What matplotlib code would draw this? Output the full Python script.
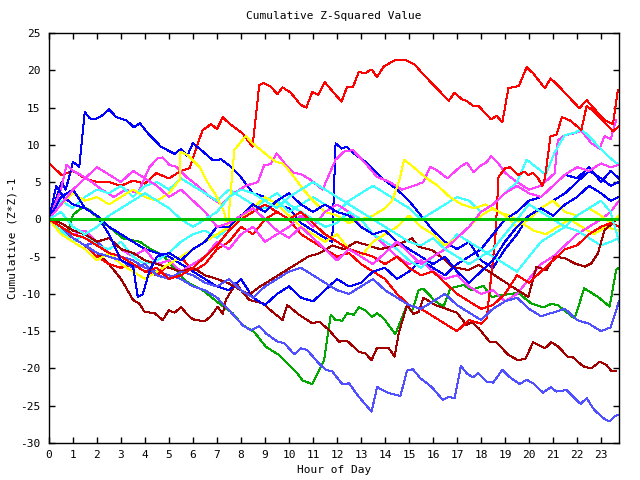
import matplotlib
matplotlib.use("Agg")
import matplotlib.pyplot as plt

# ---------------- data ----------------
zero_x = [0, 23.75]
zero_y = [0, 0]

r1_x = [0, 0.53, 1.0, 1.5, 2.0, 2.5, 3.0, 3.5, 4.0, 4.47, 5.0, 5.5, 5.85, 6.4, 6.6, 6.75, 7.0, 7.24, 7.5,
        8.07, 8.48, 8.76, 8.95, 9.24, 9.52, 9.73, 10.07, 10.49, 10.72, 10.97, 11.22, 11.49, 11.94, 12.19,
        12.42, 12.66, 12.91, 13.16, 13.44, 13.67, 13.95, 14.43, 14.85, 15.26, 15.5, 15.95, 16.23, 16.65,
        16.9, 17.2, 17.4, 17.68, 17.9, 18.42, 18.65, 18.89, 19.14, 19.58, 19.9, 20.17, 20.66, 20.9, 21.2,
        22.1, 22.4, 22.7, 23.15, 23.5, 23.7]
r1_y = [7.5, 5.95, 6.5, 5.5, 5.0, 5.0, 4.5, 5.2, 4.8, 6.2, 5.5, 6.5, 6.85, 12.0, 12.4, 12.8, 12.1, 13.7, 12.9,
        11.5, 9.75, 18.0, 18.3, 17.8, 16.8, 17.7, 17.0, 15.35, 15.0, 17.1, 16.7, 18.4, 16.7, 15.8,
        17.8, 17.7, 19.8, 19.6, 20.1, 19.1, 20.5, 21.4, 21.4, 20.7, 19.8, 18.25, 17.35, 15.9,
        17.0, 16.1, 15.9, 15.2, 15.2, 13.4, 13.9, 13.0, 17.6, 17.9, 20.4, 19.6, 17.6, 18.9, 18.0,
        14.9, 16.0, 14.9, 13.3, 12.8, 17.35]

g1_x = [0, 0.5, 0.8, 1.0, 1.42, 1.7, 2.05, 2.5, 3.08, 3.78, 4.19, 4.74, 5.3, 5.72, 6.4, 7.1, 7.65, 8.07,
        8.55, 9.04, 9.59, 10.28, 10.56, 10.97, 11.46, 11.74, 11.94, 12.22, 12.42, 12.7, 12.91, 13.19, 13.46,
        13.67, 13.95, 14.43, 14.92, 15.12, 15.4, 15.6, 16.1, 16.44, 16.72, 17.27, 17.6, 18.1, 18.45, 19.0,
        19.55, 20.1, 20.6, 20.93, 21.2, 21.9, 22.3, 22.87, 23.36, 23.63, 23.75]
g1_y = [0, -1.0, -1.9, 0.6, 1.7, 1.2, 0.15, -1.0, -2.55, -3.0, -3.9, -4.8, -6.8, -8.35, -9.5, -11.3, -12.6,
        -14.2, -15.1, -17.1, -18.2, -20.4, -21.6, -22.1, -18.9, -12.8, -13.5, -13.6, -12.6, -12.8, -11.8,
        -12.2, -13.1, -12.6, -13.3, -15.4, -11.5, -12.4, -9.5, -9.3, -11.0, -11.7, -9.25, -8.8, -9.5, -8.9,
        -10.4, -10.1, -9.85, -11.3, -11.8, -11.35, -11.5, -13.3, -9.25, -10.4, -11.7, -6.8, -6.5]

b1_x = [0, 0.53, 0.7, 1.0, 1.26, 1.49, 1.7, 1.91, 2.25, 2.5, 2.81, 3.22, 3.54, 3.78, 4.19, 4.68, 5.23, 5.51,
        5.76, 5.99, 6.34, 6.82, 7.17, 7.58, 7.93, 8.5, 9.0, 9.5, 10.0, 10.5, 11.0, 11.5, 11.8, 11.94, 12.2,
        12.4, 12.7, 13.2, 13.88, 14.5, 15.0, 15.5, 16.0, 16.5, 17.0, 17.5, 18.0, 18.5, 19.0, 19.5, 20.0,
        20.5, 21.0, 21.5, 22.0, 22.5, 23.0, 23.4, 23.75]
b1_y = [0, 5.05, 4.0, 7.7, 7.05, 14.4, 13.55, 13.4, 14.0, 14.75, 13.7, 13.3, 12.35, 12.9, 11.3, 9.7, 8.8,
        9.45, 8.5, 10.2, 9.3, 7.95, 8.05, 7.05, 5.95, 3.5, 3.0, 2.0, 1.5, -0.5, -1.5, -2.5, -3.0, 10.2, 9.5,
        9.75, 8.85, 7.7, 5.5, 4.0, 2.5, 0.5, -1.5, -3.0, -4.0, -3.0, -5.5, -6.5, -4.0, -2.0, 0.5,
        1.5, 2.5, 3.5, 5.0, 6.5, 5.5, 4.5, 5.0]

m1_x = [0, 0.5, 0.73, 1.0, 1.3, 1.7, 2.2, 2.7, 3.2, 3.7, 4.19, 4.54, 4.74, 5.02, 5.3, 5.72, 6.2, 6.7,
        7.2, 7.7, 8.2, 8.7, 8.97, 9.24, 9.49, 9.93, 10.2, 10.49, 10.9, 11.4, 11.94, 12.29, 12.66, 13.19,
        13.67, 14.2, 14.7, 15.2, 15.6, 15.88, 16.2, 16.6, 17.13, 17.41, 17.7, 17.96, 18.24, 18.42, 18.73,
        19.0, 19.5, 20.0, 20.5, 21.07, 21.2, 21.49, 21.9, 22.18, 22.6, 22.94, 23.15, 23.4, 23.63]
m1_y = [0, 4.0, 7.3, 6.5, 6.0, 5.2, 4.0, 3.0, 4.0, 3.5, 7.05, 8.2, 8.3, 7.3, 7.05, 5.7, 4.5, 3.0,
        2.0, 3.5, 4.5, 5.0, 7.3, 7.4, 8.85, 7.05, 6.2, 6.1, 5.3, 4.0, 8.0, 9.1, 9.3, 7.5,
        5.7, 5.0, 4.0, 4.5, 5.0, 7.05, 6.5, 5.5, 7.05, 7.6, 6.3, 7.15, 7.7, 8.5, 7.5,
        6.25, 5.0, 4.0, 4.5, 6.2, 10.6, 11.3, 11.55, 11.9, 10.2, 9.5, 11.2, 10.75, 13.3]

c1_x = [0, 0.5, 1.0, 1.5, 2.0, 2.5, 3.0, 3.5, 4.0, 4.5, 5.0, 5.5, 6.0, 6.5, 7.0, 7.5, 8.0, 8.5, 9.0,
        9.5, 10.0, 10.5, 11.0, 11.5, 12.0, 12.5, 13.0, 13.5, 14.0, 14.5, 15.0, 15.5, 16.0, 16.5, 17.0,
        17.5, 18.0, 18.5, 19.0, 19.5, 19.9, 20.3, 20.7, 21.07, 21.49, 21.9, 22.18, 22.6, 23.01, 23.43, 23.7]
c1_y = [0, 2.5, 1.5, 3.0, 4.0, 3.5, 4.5, 3.0, 4.5, 5.0, 4.0, 5.5, 4.5, 3.5, 2.5, 4.0, 3.0, 2.0, 1.5,
        2.5, 1.0, 2.0, 3.0, 2.0, 1.0, 2.5, 3.5, 4.5, 3.5, 2.5, 1.5, 0.0, 1.0, 2.0, 3.0,
        2.5, 1.0, 2.0, 3.5, 5.0, 8.0, 7.0, 6.0, 9.0, 11.3, 11.6, 12.1, 10.8, 9.4, 8.1, 7.4]

dr1_x = [0, 0.5, 1.0, 1.5, 2.0, 2.5, 3.0, 3.5, 3.78, 3.98, 4.4, 4.74, 4.99, 5.23, 5.51, 5.78, 5.99, 6.47,
         6.75, 7.03, 7.24, 7.37, 7.8, 8.0, 8.34, 8.9, 9.31, 9.73, 9.93, 10.42, 10.97, 11.25, 11.67, 12.08,
         12.42, 12.91, 13.19, 13.44, 13.67, 14.16, 14.4, 14.57, 14.92, 15.19, 15.4, 15.6, 16.1, 16.72,
         17.0, 17.4, 17.6, 17.9, 18.38, 18.65, 19.14, 19.55, 19.86, 20.17, 20.66, 20.93, 21.2, 21.63,
         21.83, 22.25, 22.6, 22.94, 23.22, 23.42, 23.63]
dr1_y = [0, -1.5, -2.5, -3.5, -4.5, -6.0, -8.0, -10.8, -11.35, -12.4, -12.6, -13.5, -12.2, -12.5, -11.8,
         -12.8, -13.4, -13.7, -13.0, -11.7, -12.7, -10.8, -8.5, -9.5, -10.8, -11.25, -12.4, -13.5, -11.5,
         -12.8, -13.95, -13.7, -14.85, -16.4, -16.3, -17.75, -18.0, -18.9, -17.2, -17.3, -18.4, -15.3,
         -11.5, -12.7, -12.4, -10.5, -11.5, -12.2, -12.5, -14.2, -13.75, -14.6, -16.5, -16.5, -18.2,
         -18.9, -18.65, -16.5, -17.3, -16.5, -17.0, -18.5, -18.5, -19.7, -20.0, -19.1, -19.5, -20.3, -20.3]

y1_x = [0, 0.5, 1.0, 1.5, 2.0, 2.5, 3.0, 3.5, 4.0, 4.5, 5.0, 5.44, 5.46, 5.78, 6.27, 6.6, 7.0, 7.3, 7.45,
        7.72, 8.2, 8.48, 8.83, 9.17, 9.45, 9.73, 9.93, 10.2, 10.6, 11.0, 11.5, 12.0, 12.5, 13.0, 13.5,
        14.0, 14.3, 14.6, 14.8, 15.15, 15.7, 16.2, 16.7, 17.2, 17.7, 18.2, 18.7, 19.2, 19.7, 20.2, 20.7,
        21.2, 21.7, 22.2, 22.7, 23.2, 23.75]
y1_y = [0, 2.0, 3.5, 2.5, 3.0, 2.0, 3.0, 4.0, 3.0, 2.5, 3.5, 5.3, 9.1, 8.6, 7.05, 5.0, 3.0, 1.0, -1.0,
        9.3, 11.2, 10.2, 9.3, 8.4, 7.7, 7.5, 6.85, 5.7, 4.0, 2.5, 1.0, 0.5, -0.5, 0.0, 0.5,
        1.5, 2.5, 5.3, 8.0, 7.1, 5.6, 4.5, 3.0, 2.0, 1.5, 2.0, 1.0, 0.5, -0.5, -1.5, -2.0,
        -1.0, 0.0, -1.0, -2.0, -1.0, -1.5]

sb1_x = [0, 0.5, 1.0, 1.5, 2.0, 2.5, 3.0, 3.5, 4.0, 4.5, 5.0, 5.5, 6.0, 6.5, 7.0, 7.51, 8.07, 8.41, 8.76,
         9.04, 9.52, 9.8, 10.22, 10.49, 10.75, 11.18, 11.53, 11.8, 12.22, 12.5, 12.91, 13.44, 13.67, 14.16,
         14.64, 14.92, 15.16, 15.47, 15.95, 16.4, 16.65, 16.9, 17.16, 17.41, 17.65, 17.89, 18.24, 18.5,
         18.89, 19.21, 19.62, 19.9, 20.17, 20.59, 20.91, 21.14, 21.56, 21.9, 22.15, 22.4, 22.73, 23.15,
         23.36, 23.59, 23.75]
sb1_y = [0, -1.5, -2.5, -3.5, -3.0, -4.5, -5.0, -5.5, -6.5, -7.0, -7.5, -8.0, -9.0, -9.5, -10.5, -12.2,
         -14.2, -14.9, -14.3, -15.3, -16.4, -16.6, -18.1, -17.3, -17.5, -19.1, -20.2, -20.4, -22.1, -22.0,
         -23.8, -25.8, -22.5, -23.3, -23.7, -20.3, -20.1, -21.3, -22.5, -24.2, -23.8, -24.0, -19.7,
         -20.65, -21.2, -20.65, -21.8, -21.9, -20.2, -21.2, -22.1, -21.5, -22.0, -23.25, -22.5, -23.1,
         -22.9, -24.0, -24.75, -24.0, -25.6, -26.8, -27.1, -26.4, -26.2]

r2_x = [0, 0.5, 1.0, 1.5, 2.0, 2.5, 3.0, 3.5, 4.0, 4.5, 5.0, 5.5, 6.0, 6.5, 7.0, 7.5, 8.0, 8.5, 9.0,
        9.5, 10.0, 10.5, 11.0, 11.5, 12.0, 12.5, 13.0, 13.5, 14.0, 14.5, 15.0, 15.5, 16.0, 16.5, 17.0,
        17.5, 18.0, 18.24, 18.6, 18.73, 19.0, 19.2, 19.55, 19.8, 19.97, 20.17, 20.38, 20.55, 20.66, 20.9,
        21.14, 21.37, 21.7, 22.18, 22.4, 22.7, 23.0, 23.3, 23.5, 23.75]
r2_y = [0, -1.5, -2.5, -3.5, -5.0, -6.0, -6.5, -6.0, -7.0, -7.5, -6.0, -5.0, -7.0, -6.0, -4.0, -3.0,
        -1.0, -2.0, 0.0, 1.0, 0.0, -2.0, -3.0, -4.0, -5.0, -4.5, -6.0, -7.0, -8.0, -10.0, -11.5, -12.0,
        -13.0, -14.0, -15.0, -13.5, -14.0, -13.3, -2.3, 5.7, 6.85, 7.0, 5.95, 6.4, 5.95, 6.25, 5.5, 4.5,
        5.5, 11.2, 11.3, 13.7, 13.3, 12.0, 15.2, 14.5, 13.5, 12.5, 11.8, 12.5]

b2_x = [0, 0.3, 0.6, 1.0, 1.5, 2.0, 2.5, 3.0, 3.5, 4.0, 4.5, 5.0, 5.5, 6.0, 6.5, 7.0, 7.5, 8.0, 8.5,
        9.0, 9.5, 10.0, 10.5, 11.0, 11.5, 12.0, 12.5, 13.0, 13.5, 14.0, 14.5, 15.0, 15.5, 16.0, 16.5,
        17.0, 17.5, 18.0, 18.5, 19.0, 19.5, 20.0, 20.5, 21.0, 21.5, 22.0, 22.5, 23.0, 23.4, 23.75]
b2_y = [0, 4.5, 3.0, 2.0, 1.5, 0.5, -1.0, -2.0, -3.0, -4.0, -4.5, -5.0, -6.0, -7.0, -8.0, -9.0, -9.5,
        -8.0, -10.5, -11.5, -10.0, -9.0, -10.5, -11.0, -9.5, -8.0, -9.0, -8.5, -7.0, -6.5, -8.0, -7.0,
        -5.5, -6.5, -7.5, -6.0, -5.0, -4.0, -2.0, 0.0, 1.0, 2.5, 3.0, 4.5, 6.0, 5.5, 7.0, 5.0, 6.5, 5.5]

m2_x = [0, 0.5, 1.0, 1.5, 2.0, 2.5, 3.0, 3.5, 4.0, 4.5, 5.0, 5.5, 6.0, 6.5, 7.0, 7.5, 8.0, 8.5, 9.0,
        9.5, 10.0, 10.5, 11.0, 11.5, 12.0, 12.5, 13.0, 13.5, 14.0, 14.5, 15.0, 15.5, 16.0, 16.5, 17.0,
        17.5, 18.0, 18.5, 19.0, 19.5, 20.0, 20.5, 21.0, 21.5, 22.0, 22.5, 23.0, 23.4, 23.75]
m2_y = [0, -1.0, -2.0, -1.5, -3.0, -2.5, -4.0, -5.0, -4.0, -6.0, -5.5, -7.0, -6.0, -5.0, -3.0, -4.0,
        -2.0, -1.0, -3.0, -2.0, -1.0, 0.5, -1.0, 1.0, 2.0, 1.0, -1.0, -2.0, -3.5, -5.0, -6.0, -5.5, -7.0,
        -8.0, -7.5, -9.0, -10.0, -9.5, -11.0, -10.0, -8.0, -6.0, -5.0, -3.5, -2.0, -1.0, 0.0, 1.0, 2.5]

c2_x = [0, 0.5, 1.0, 1.5, 2.0, 2.5, 3.0, 3.5, 4.0, 4.5, 5.0, 5.5, 6.0, 6.5, 7.0, 7.5, 8.0, 8.5, 9.0,
        9.5, 10.0, 10.5, 11.0, 11.5, 12.0, 12.5, 13.0, 13.5, 14.0, 14.5, 15.0, 15.5, 16.0, 16.5, 17.0,
        17.5, 18.0, 18.5, 19.0, 19.5, 20.0, 20.5, 21.0, 21.5, 22.0, 22.5, 23.0, 23.4, 23.75]
c2_y = [0, -1.5, -3.0, -2.0, -3.5, -4.0, -3.0, -5.0, -6.0, -5.5, -4.5, -3.0, -2.0, -1.5, -2.5, -1.0,
        0.5, 1.5, 2.5, 3.5, 2.0, 1.0, 0.0, -1.0, -0.5, 1.0, 0.0, -2.0, -3.0, -4.0, -5.5, -6.5, -5.0,
        -4.0, -2.0, -3.0, -4.0, -5.0, -6.0, -7.0, -5.0, -3.0, -2.0, -1.0, -1.5, -2.5, -3.5, -3.0, -2.5]

dr2_x = [0, 0.5, 1.0, 1.5, 2.0, 2.5, 3.0, 3.5, 4.0, 4.5, 5.0, 5.5, 6.0, 6.5, 7.0, 7.5, 8.0, 8.34, 8.8,
         9.3, 9.8, 10.3, 10.8, 11.3, 11.8, 12.3, 12.8, 13.3, 13.8, 14.5, 15.12, 15.4, 15.95, 16.5, 16.78,
         17.48, 17.9, 18.45, 19.28, 19.97, 20.31, 20.73, 21.07, 21.49, 21.9, 22.32, 22.6, 22.87, 23.15,
         23.5, 23.75]
dr2_y = [0, -0.5, -1.5, -2.0, -3.0, -2.5, -4.0, -4.5, -5.5, -6.0, -6.5, -7.0, -6.5, -7.5, -8.0, -8.6,
         -9.5, -10.1, -9.0, -8.0, -7.0, -6.0, -5.0, -4.5, -3.5, -4.0, -3.0, -3.5, -4.0, -3.45, -2.55,
         -3.7, -4.1, -5.45, -6.35, -6.8, -6.1, -7.25, -9.0, -10.4, -6.35, -6.8, -5.0, -5.2, -5.9, -6.35,
         -5.9, -4.55, -1.4, -0.5, 0.5]

y2_x = [0, 0.5, 1.0, 1.5, 2.0, 2.5, 3.0, 3.5, 4.0, 4.5, 5.0, 5.5, 6.0, 6.5, 7.0, 7.5, 8.0, 8.5, 9.0,
        9.5, 10.0, 10.5, 11.0, 11.5, 12.0, 12.5, 13.0, 13.5, 14.0, 14.5, 15.0, 15.5, 16.0, 16.5, 17.0,
        17.5, 18.0, 18.5, 19.0, 19.5, 20.0, 20.5, 21.0, 21.5, 22.0, 22.5, 23.0, 23.4, 23.75]
y2_y = [0, -2.0, -3.0, -4.0, -5.5, -4.5, -6.0, -7.0, -8.0, -7.0, -6.0, -5.0, -4.0, -3.0, -2.0, -1.0,
        0.0, 1.5, 3.0, 2.0, 0.5, -1.0, -2.0, -3.0, -2.0, -4.0, -5.0, -3.0, -2.0, -1.0, 0.5, -1.0, -2.0,
        -3.5, -2.5, -1.0, 0.5, 1.5, 0.5, -1.0, 0.0, 1.5, 2.5, 1.0, 0.5, 1.5, 0.5, -0.5, 0.5]

sb2_x = [0, 0.5, 1.0, 1.5, 2.0, 2.5, 3.0, 3.5, 4.0, 4.5, 5.0, 5.5, 6.0, 6.5, 7.0, 7.5, 8.0, 8.5, 9.0,
         9.5, 10.0, 10.5, 11.0, 11.5, 12.0, 12.5, 13.0, 13.5, 14.0, 14.5, 15.0, 15.5, 16.0, 16.5, 17.0,
         17.5, 18.0, 18.5, 19.0, 19.5, 20.0, 20.5, 21.0, 21.5, 22.0, 22.5, 23.0, 23.4, 23.75]
sb2_y = [0, -1.0, -2.5, -3.5, -4.5, -5.0, -5.5, -6.5, -6.0, -7.5, -8.0, -7.0, -7.5, -8.5, -9.0, -8.0,
         -9.5, -10.5, -9.0, -8.0, -7.0, -6.5, -7.5, -8.5, -9.5, -10.0, -9.0, -8.0, -9.5, -10.5, -11.5,
         -12.0, -11.0, -10.0, -11.5, -12.5, -13.5, -12.0, -11.0, -10.5, -12.0, -13.0, -12.5, -12.0, -13.5,
         -14.0, -15.0, -14.5, -11.0]

r3_x = [0, 0.5, 1.0, 1.5, 2.0, 2.5, 3.0, 3.5, 4.0, 4.5, 5.0, 5.5, 6.0, 6.5, 7.0, 7.5, 8.0, 8.5, 9.0,
        9.5, 10.0, 10.5, 11.0, 11.5, 12.0, 12.5, 13.0, 13.5, 14.0, 14.5, 15.0, 15.5, 16.0, 16.5, 17.0,
        17.5, 18.0, 18.5, 19.0, 19.5, 20.0, 20.5, 21.0, 21.5, 22.0, 22.5, 23.0, 23.4, 23.75]
r3_y = [0, -1.0, -2.0, -2.5, -3.5, -4.5, -5.0, -6.0, -7.0, -6.5, -8.0, -7.5, -6.5, -5.0, -3.5, -1.5,
        0.0, 1.0, 2.0, 1.0, 0.0, 1.0, -0.5, -2.0, -3.0, -4.0, -4.5, -5.0, -6.0, -5.0, -6.5, -7.5, -7.0,
        -8.5, -10.0, -11.0, -12.0, -11.5, -10.0, -7.5, -8.5, -7.0, -5.5, -4.0, -3.5, -2.0, -1.0, -0.5, -1.0]

b3_x = [0, 0.5, 1.0, 1.5, 2.0, 2.5, 3.0, 3.5, 3.7, 3.9, 4.2, 4.5, 5.0, 5.5, 6.0, 6.5, 7.0, 7.5, 8.0,
        8.5, 9.0, 9.5, 10.0, 10.5, 11.0, 11.5, 12.0, 12.5, 13.0, 13.5, 14.0, 14.5, 15.0, 15.5, 16.0,
        16.5, 17.0, 17.5, 18.0, 18.5, 19.0, 19.5, 20.0, 20.5, 21.0, 21.5, 22.0, 22.5, 23.0, 23.4, 23.75]
b3_y = [0, 3.0, 4.0, 1.5, 0.5, -2.0, -5.5, -6.3, -10.4, -10.1, -6.8, -5.0, -4.5, -5.5, -4.0, -3.0,
        -1.0, -1.0, 0.5, 2.0, 1.0, 2.5, 3.5, 2.0, 1.0, 2.0, 1.0, 0.5, -1.0, -2.0, -1.5, -3.0, -4.0,
        -5.0, -6.0, -5.0, -7.0, -8.5, -7.0, -5.5, -3.0, -1.0, 0.5, 1.5, 0.5, 2.0, 3.0, 4.5, 3.5, 2.5, 3.0]

m3_x = [0, 0.5, 1.0, 1.5, 2.0, 2.5, 3.0, 3.5, 4.0, 4.5, 5.0, 5.5, 6.0, 6.5, 7.0, 7.5, 8.0, 8.5, 9.0,
        9.5, 10.0, 10.5, 11.0, 11.5, 12.0, 12.5, 13.0, 13.5, 14.0, 14.5, 15.0, 15.5, 16.0, 16.5, 17.0,
        17.5, 18.0, 18.5, 19.0, 19.5, 20.0, 20.5, 21.0, 21.5, 22.0, 22.5, 23.0, 23.4, 23.75]
m3_y = [0, 2.0, 4.0, 5.5, 7.0, 6.0, 5.0, 6.5, 5.5, 4.5, 3.0, 4.0, 2.5, 1.0, -1.0, -0.5, 0.5, 1.5, 0.0,
        -1.5, -2.5, -1.0, -2.5, -4.0, -5.5, -4.0, -5.0, -6.0, -4.5, -3.0, -4.5, -6.0, -5.0, -4.0, -2.5,
        -1.0, 1.0, 2.0, 3.5, 4.5, 3.5, 3.0, 4.5, 6.0, 7.0, 6.5, 7.5, 7.0, 7.3]

c3_x = [0, 0.5, 1.0, 1.5, 2.0, 2.5, 3.0, 3.5, 4.0, 4.5, 5.0, 5.5, 6.0, 6.5, 7.0, 7.5, 8.0, 8.5, 9.0,
        9.5, 10.0, 10.5, 11.0, 11.5, 12.0, 12.5, 13.0, 13.5, 14.0, 14.5, 15.0, 15.5, 16.0, 16.5, 17.0,
        17.5, 18.0, 18.5, 19.0, 19.5, 20.0, 20.5, 21.0, 21.5, 22.0, 22.5, 23.0, 23.4, 23.75]
c3_y = [0, 1.0, -1.0, -2.0, -1.0, 0.5, 1.5, 2.5, 3.5, 2.5, 1.5, 0.0, -1.0, 0.0, 1.0, 3.0, 4.0, 3.5,
        2.5, 1.5, 3.0, 4.0, 5.0, 4.0, 3.0, 2.0, 1.0, 0.0, -1.0, -2.0, -3.0, -3.5, -2.5, -4.0, -5.0, -6.0,
        -5.0, -4.0, -2.0, 0.0, 2.0, 1.0, 0.0, -1.0, 0.5, 1.5, 2.5, 1.0, -3.0]

series = [
    (r1_x, r1_y, "#ff0000"),
    (g1_x, g1_y, "#00a800"),
    (b1_x, b1_y, "#0000ff"),
    (m1_x, m1_y, "#ff40ff"),
    (c1_x, c1_y, "#40ffff"),
    (dr1_x, dr1_y, "#a00000"),
    (y1_x, y1_y, "#ffff00"),
    (sb1_x, sb1_y, "#5050ff"),
    (r2_x, r2_y, "#ff0000"),
    (b2_x, b2_y, "#0000ff"),
    (m2_x, m2_y, "#ff40ff"),
    (c2_x, c2_y, "#40ffff"),
    (dr2_x, dr2_y, "#a00000"),
    (y2_x, y2_y, "#ffff00"),
    (sb2_x, sb2_y, "#5050ff"),
    (r3_x, r3_y, "#ff0000"),
    (b3_x, b3_y, "#0000ff"),
    (m3_x, m3_y, "#ff40ff"),
    (c3_x, c3_y, "#40ffff"),
]

x_ticks = list(range(0, 24))
y_ticks = list(range(-30, 26, 5))

# ---------------- drawing ----------------
mono = ["DejaVu Sans Mono"]
fs = 8.0
fig = plt.figure(figsize=(6.4, 4.8), dpi=100)
ax = fig.add_axes([49 / 640, 1 - 443 / 480, (619 - 49) / 640, (443 - 33) / 480])

for xs, ys, col in series:
    ax.plot(xs, ys, color=col, lw=0.72, antialiased=False)
ax.plot(zero_x, zero_y, color="#00c000", lw=0.8, antialiased=False)

ax.set_xlim(0, 23.75)
ax.set_ylim(-30, 25)
ax.set_xticks(x_ticks)
ax.set_yticks(y_ticks)
ax.set_xticklabels([str(v) for v in x_ticks], family=mono, fontsize=fs)
ax.set_yticklabels([str(v) for v in y_ticks], family=mono, fontsize=fs)
ax.tick_params(axis="x", direction="in", length=4.5, width=1.0, top=True, pad=5)
ax.tick_params(axis="y", direction="in", length=4.5, width=1.0, right=True, pad=6)
for s in ax.spines.values():
    s.set_linewidth(1.0)

ax.text(0.5, 1 + (33 - 16) / 410, "Cumulative Z-Squared Value", transform=ax.transAxes,
        ha="center", va="center", family=mono, fontsize=fs)
ax.text(0.5, (443 - 470) / 410, "Hour of Day", transform=ax.transAxes,
        ha="center", va="center", family=mono, fontsize=fs)
ax.text((12 - 49) / 570, 0.5, "Cumulative (Z*Z)-1", transform=ax.transAxes,
        ha="center", va="center", rotation=90, family=mono, fontsize=fs)

fig.savefig("out.png", dpi=100)
